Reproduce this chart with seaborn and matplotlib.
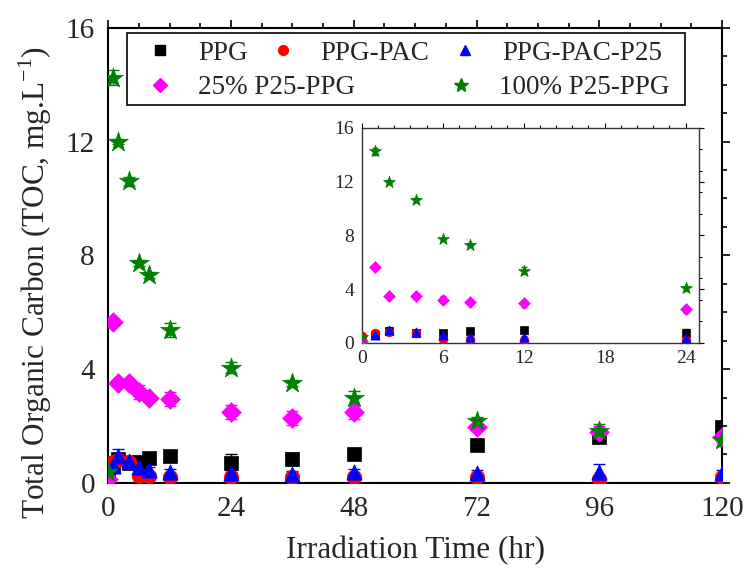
import numpy as np
import pandas as pd
import matplotlib
matplotlib.use("Agg")
import matplotlib.pyplot as plt
import seaborn as sns
from matplotlib.ticker import MultipleLocator
from matplotlib.lines import Line2D
from matplotlib.patches import Rectangle

time = [0, 1, 2, 4, 6, 8, 12, 24, 36, 48, 72, 96, 120]
series = ["PPG", "PPG-PAC", "PPG-PAC-P25", "25% P25-PPG", "100% P25-PPG"]
toc_ppg = [0.3, 0.6, 0.85, 0.7, 0.72, 0.86, 0.94, 0.7, 0.84, 1.0, 1.34, 1.6, 1.95]
toc_pac = [0.5, 0.75, 0.8, 0.72, 0.25, 0.25, 0.2, 0.2, 0.2, 0.2, 0.2, 0.15, 0.2]
toc_pac_p25 = [0.3, 0.6, 0.93, 0.78, 0.55, 0.45, 0.4, 0.35, 0.32, 0.38, 0.35, 0.37, 0.35]
toc_25 = [0.15, 5.67, 3.52, 3.5, 3.2, 3.0, 2.95, 2.5, 2.29, 2.48, 1.95, 1.8, 1.63]
toc_100 = [0.4, 14.25, 12.0, 10.6, 7.73, 7.31, 5.38, 4.05, 3.52, 2.98, 2.18, 1.83, 1.51]
err_ppg = [0.1, 0.1, 0.1, 0.1, 0.1, 0.1, 0.1, 0.3, 0.2, 0.1, 0.1, 0.2, 0.15]
err_pac = [0.1, 0.1, 0.1, 0.1, 0.1, 0.1, 0.1, 0.1, 0.1, 0.1, 0.1, 0.1, 0.1]
err_pac_p25 = [0.1, 0.1, 0.25, 0.15, 0.1, 0.1, 0.1, 0.1, 0.1, 0.1, 0.1, 0.3, 0.1]
err_25 = [0.1, 0.1, 0.1, 0.1, 0.25, 0.1, 0.25, 0.25, 0.25, 0.25, 0.1, 0.2, 0.2]
err_100 = [0.1, 0.25, 0.1, 0.15, 0.1, 0.1, 0.25, 0.2, 0.1, 0.25, 0.15, 0.25, 0.2]

colors = {"PPG": "#000000", "PPG-PAC": "#FF0000", "PPG-PAC-P25": "#0000FF",
          "25% P25-PPG": "#FF00FF", "100% P25-PPG": "#008000"}
markers = {"PPG": "s", "PPG-PAC": "o", "PPG-PAC-P25": "^",
           "25% P25-PPG": "D", "100% P25-PPG": "*"}
sizes_main = {"PPG": 10, "PPG-PAC": 10.5, "PPG-PAC-P25": 11, "25% P25-PPG": 10, "100% P25-PPG": 15}

vals = [toc_ppg, toc_pac, toc_pac_p25, toc_25, toc_100]
errs = [err_ppg, err_pac, err_pac_p25, err_25, err_100]
rows = []
for s, v, e in zip(series, vals, errs):
    for t, y, er in zip(time, v, e):
        rows.append({"time": t, "toc": y, "err": er, "series": s})
df = pd.DataFrame(rows)

sns.set_theme(style="white")
plt.rcParams["font.family"] = ["Liberation Serif", "DejaVu Serif"]
plt.rcParams["mathtext.fontset"] = "custom"
plt.rcParams["mathtext.rm"] = "Liberation Serif"

fig = plt.figure(figsize=(7.46, 5.79), dpi=100)
ax = fig.add_axes([0.145, 0.166, 0.823, 0.786])


def draw(axis, scale, inset=False):
    for s in series:
        d = df[df["series"] == s]
        if inset:
            d = d[d["time"] <= 24]
        axis.errorbar(d["time"], d["toc"], yerr=d["err"], fmt="none",
                      ecolor=colors[s], elinewidth=1.0, capsize=4 * scale, capthick=1.0, zorder=2)
        sns.scatterplot(data=d, x="time", y="toc", ax=axis, color=colors[s],
                        marker=markers[s], s=(sizes_main[s] * scale) ** 2,
                        edgecolor=colors[s], linewidth=0.5, legend=False, zorder=3)


draw(ax, 1.0)
ax.set_xlim(0, 120)
ax.set_ylim(0, 16)
ax.xaxis.set_major_locator(MultipleLocator(24))
ax.xaxis.set_minor_locator(MultipleLocator(6))
ax.yaxis.set_major_locator(MultipleLocator(4))
ax.yaxis.set_minor_locator(MultipleLocator(1))
ax.tick_params(which="both", direction="out", top=True, right=True, labelsize=21,
               color="black", width=1.2)
ax.tick_params(which="major", length=6)
ax.tick_params(which="minor", length=3.5)
for sp in ax.spines.values():
    sp.set_color("black")
    sp.set_linewidth(1.5)
ax.set_xlabel("Irradiation Time (hr)", fontsize=22.5, labelpad=10)
ax.set_ylabel(r"Total Organic Carbon (TOC, mg.L$^{\mathrm{-1}}$)", fontsize=22.5)
ax.yaxis.set_label_coords(-0.088, 0.44)

# legend frame + two rows
frame = Rectangle((127 / 746, 1 - 105 / 579), 558 / 746, 72 / 579, transform=fig.transFigure,
                  facecolor="white", edgecolor="black", linewidth=1.2, zorder=5)
fig.patches.append(frame)


def mk(s):
    return Line2D([], [], linestyle="none", marker=markers[s], color=colors[s],
                  markersize=(7 if s != "100% P25-PPG" else 10))


row1 = ["PPG", "PPG-PAC", "PPG-PAC-P25"]
row2 = ["25% P25-PPG", "100% P25-PPG"]
leg_kw = dict(frameon=False, fontsize=19.5, handlelength=1.0, handletextpad=0.9,
              borderpad=0, borderaxespad=0, loc="center left", bbox_transform=fig.transFigure)
leg1 = fig.legend([mk(s) for s in row1], row1, ncol=3, columnspacing=0.8,
                  bbox_to_anchor=(146.5 / 746, 1 - 53 / 579), **leg_kw)
leg2 = fig.legend([mk(s) for s in row2], row2, ncol=2, columnspacing=3.4,
                  bbox_to_anchor=(146.5 / 746, 1 - 88 / 579), **leg_kw)
leg1.set_zorder(6)
leg2.set_zorder(6)

axin = fig.add_axes([0.485, 0.408, 0.452, 0.371])
draw(axin, 0.6, inset=True)
axin.set_xlim(0, 25)
axin.set_ylim(0, 16)
axin.xaxis.set_major_locator(MultipleLocator(6))
axin.xaxis.set_minor_locator(MultipleLocator(1.2))
axin.yaxis.set_major_locator(MultipleLocator(4))
axin.yaxis.set_minor_locator(MultipleLocator(1.6))
axin.tick_params(which="both", direction="out", top=True, right=True, labelsize=14,
                 color="black", width=0.8, pad=2)
axin.tick_params(which="major", length=3.5)
axin.tick_params(which="minor", length=2)
for sp in axin.spines.values():
    sp.set_color("#333333")
    sp.set_linewidth(1.0)
axin.set_xlabel("")
axin.set_ylabel("")

fig.savefig("out.png", dpi=100)
